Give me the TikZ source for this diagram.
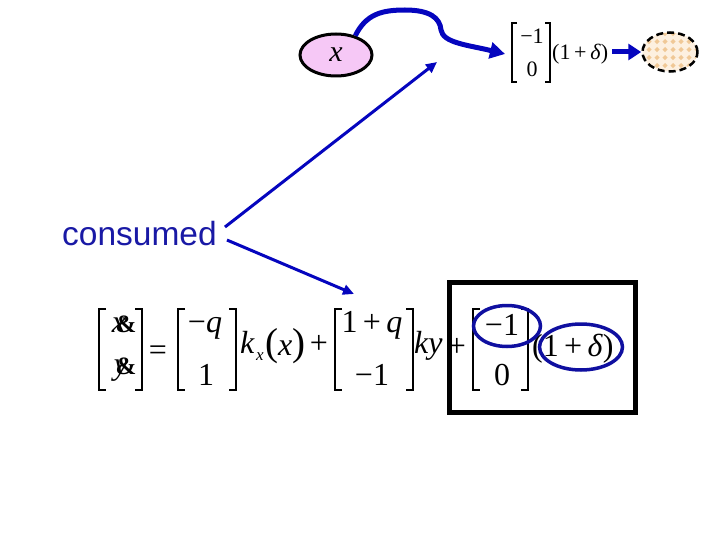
\documentclass[tikz,border=0pt]{standalone}
\usepackage{fontspec}
\setmainfont{Liberation Serif}
\newfontfamily\arialfont{Liberation Sans}
\usetikzlibrary{arrows.meta, shapes.geometric}

\definecolor{linkblue}{RGB}{5,5,190}
\definecolor{wordblue}{RGB}{25,25,165}
\definecolor{ringblue}{RGB}{15,15,160}
\definecolor{stockpink}{RGB}{246,200,246}
\definecolor{sinktan}{RGB}{240,200,150}
\definecolor{sinkbg}{RGB}{253,240,224}

\begin{document}
\begin{tikzpicture}[x=1pt, y=-1pt,
  eq/.style={font=\fontsize{32}{34}\selectfont, inner sep=0pt, anchor=base},
  eqsmall/.style={font=\fontsize{22}{24}\selectfont, inner sep=0pt, anchor=base},
  brack/.style={line width=1.4pt},
  flow/.style={line width=5pt, draw=linkblue, -{Triangle[length=15pt,width=16pt]}},
  feed/.style={line width=3pt, draw=linkblue, -{Triangle[length=11pt,width=10pt]}},
  ring/.style={ellipse, draw=ringblue, line width=3.5pt, inner sep=0pt}]
  \useasboundingbox (0,0) rectangle (720,540);

  % stock of x and its outflow
  \node[ellipse, draw, line width=3pt, fill=stockpink, minimum width=72pt, minimum height=42pt,
        inner sep=0pt, font=\fontsize{30}{30}\selectfont\itshape] (stock) at (336,55) {x};
  \node[eqsmall] (tm1) at (532,44) {−1};
  \node[eqsmall] (tm2) at (532,77) {0};
  \node[eqsmall, anchor=base west] (tfac) at (552,60) {(1\,+\,\textit{δ})};
  \foreach \l/\r in {512/550} {
    \draw[brack] (\l+5,23) -- (\l,23) -- (\l,82) -- (\l+5,82);
    \draw[brack] (\r-5,23) -- (\r,23) -- (\r,82) -- (\r-5,82);
  }
  \coordinate (into) at (505,54);
  \draw[flow] (stock.45) .. controls (366,14) and (382,10) .. (405,10)
    .. controls (430,10) and (440,18) .. (441,30)
    .. controls (443,43) and (468,45) .. (into);

  % sink (cloud)
  \begin{scope}
    \clip (670,52) ellipse [x radius=27.5, y radius=19.5];
    \fill[sinkbg] (640,30) rectangle (700,75);
    \foreach \i in {0,...,7}
      \foreach \j in {0,...,5}
        \fill[sinktan] (641+\i*8,31+\j*8) -- ++(2.6,2.6) -- ++(-2.6,2.6) -- ++(-2.6,-2.6) -- cycle;
  \end{scope}
  \node[ellipse, draw, line width=2.5pt, dash pattern=on 7pt off 4pt,
        minimum width=55pt, minimum height=39pt, inner sep=0pt] (sink) at (670,52) {};
  \draw[line width=5pt, draw=linkblue, -{Triangle[length=13pt,width=16pt]}]
    ([xshift=4pt]tfac.east |- 0,52) -- (sink.west);

  % consumed
  \node[font=\arialfont\fontsize{33.5}{33.5}\selectfont, text=wordblue, anchor=base west,
        inner sep=0pt] (cons) at (62,245) {consumed};
  \coordinate (upend) at (437,62);
  \coordinate (downend) at (354,294);
  \draw[feed] ([xshift=8pt,yshift=6pt]cons.east) -- (upend);
  \draw[feed] ([xshift=10pt,yshift=-7pt]cons.east) -- (downend);

  % the state equation
  \foreach \l/\r in {99/142, 178/236, 335/413, 473/528} {
    \draw[brack] (\l+7,309) -- (\l,309) -- (\l,390) -- (\l+7,390);
    \draw[brack] (\r-7,309) -- (\r,309) -- (\r,390) -- (\r-7,390);
  }
  \node[eq] (lx) at (119,332) {\textit{x}};
  \node[eq, font=\fontsize{25}{25}\selectfont\bfseries] (lxamp) at (126,332) {\&};
  \node[eq] (ly) at (121,374) {\textit{y}};
  \node[eq, font=\fontsize{25}{25}\selectfont\bfseries] (lyamp) at (126,374) {\&};
  \node[eq] (equal) at (158,360) {=};
  \node[eq] (b1) at (205,332) {−\textit{q}};
  \node[eq] (b2) at (206,385) {1};
  \node[eq, anchor=base west] (kx) at (240,353) {\textit{k}};
  \node[eq, anchor=base west, font=\fontsize{17}{17}\selectfont] (kxsub) at (256,360) {\textit{x}};
  \node[eq, anchor=base west] (arg) at (265,355)
    {\fontsize{39}{39}\selectfont(\fontsize{32}{32}\selectfont\textit{x}\fontsize{39}{39}\selectfont)};
  \node[eq] (plus1) at (319,353) {+};
  \node[eq] (c1) at (372,332) {1\,+\,\textit{q}};
  \node[eq] (c2) at (372,385) {−1};
  \node[eq, anchor=base west] (ky) at (414,353) {\textit{ky}};
  \node[eq] (plus2) at (457,356) {+};
  \node[eq] (d1) at (502,335) {−1};
  \node[eq] (d2) at (502,385) {0};
  \node[eq, anchor=base west] (dfac) at (532,356) {(1\,+\,\textit{δ})};

  % highlight of the outflow term
  \draw[line width=5pt] (449.5,282.5) rectangle (635.5,412.5);
  \node[ring, minimum width=67pt, minimum height=41pt] (ring1) at (507,326) {};
  \node[ring, minimum width=83pt, minimum height=46pt] (ring2) at (581,347) {};
\end{tikzpicture}
\end{document}
